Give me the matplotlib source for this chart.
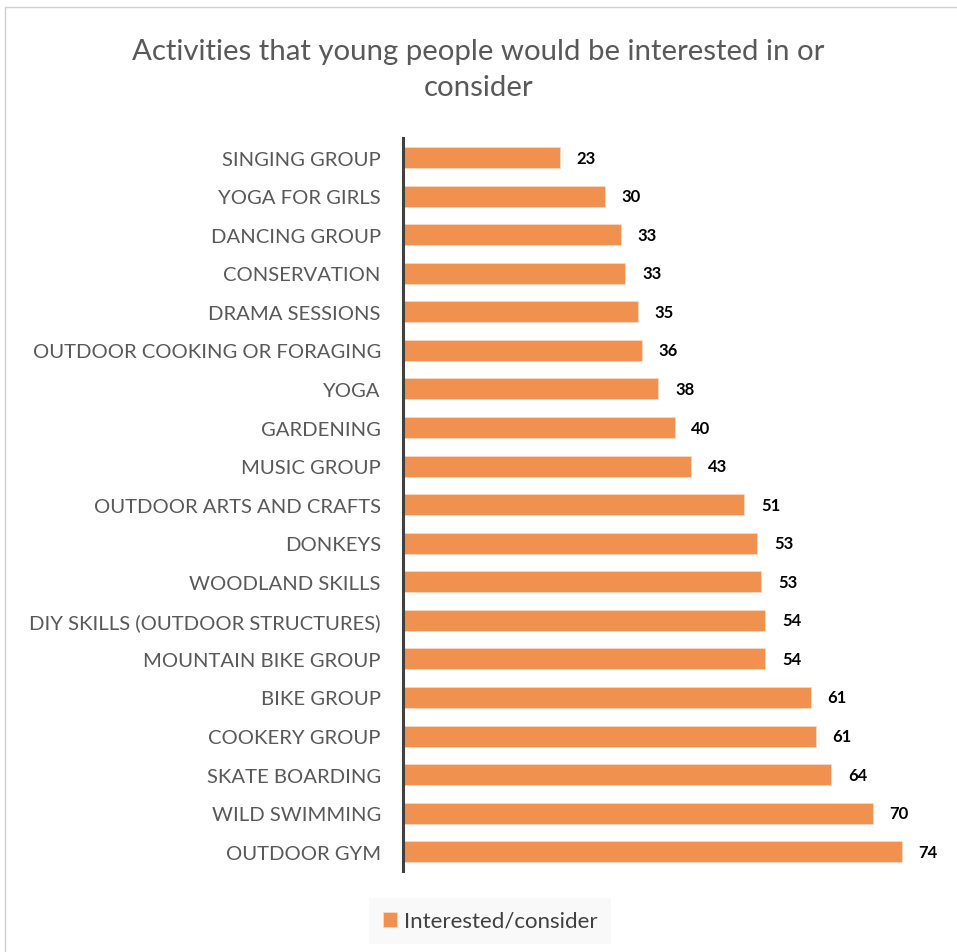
import matplotlib.pyplot as plt
from matplotlib.patches import Rectangle

# ---------------- DATA ----------------
activities = [
    "SINGING GROUP", "YOGA FOR GIRLS", "DANCING GROUP", "CONSERVATION",
    "DRAMA SESSIONS", "OUTDOOR COOKING OR FORAGING", "YOGA", "GARDENING",
    "MUSIC GROUP", "OUTDOOR ARTS AND CRAFTS", "DONKEYS", "WOODLAND SKILLS",
    "DIY SKILLS (OUTDOOR STRUCTURES)", "MOUNTAIN BIKE GROUP", "BIKE GROUP",
    "COOKERY GROUP", "SKATE BOARDING", "WILD SWIMMING", "OUTDOOR GYM",
]
# bar lengths as measured, labels as printed on the chart
values = [23.3, 30.0, 32.4, 33.1, 34.9, 35.5, 38.0, 40.4, 42.9, 50.8,
          52.7, 53.3, 53.9, 53.9, 60.7, 61.4, 63.7, 69.9, 74.2]
labels = [23, 30, 33, 33, 35, 36, 38, 40, 43, 51,
          53, 53, 54, 54, 61, 61, 64, 70, 74]

TITLE = "Activities that young people would be interested in or\nconsider"
SERIES = "Interested/consider"

BAR_COLOR = "#F0914F"
TEXT_GREY = "#595959"

plt.rcParams["font.family"] = ["Lato", "DejaVu Sans"]

fig = plt.figure(figsize=(9.57, 9.53), dpi=100)
ax = fig.add_axes([0.4211, 0.0850, 0.983 - 0.4211, 0.8538 - 0.0850])

# chart border (Excel style frame)
fig.patches.append(Rectangle((5 / 957, -0.1), 1.2, 1 - 8 / 953 + 0.1,
                             transform=fig.transFigure, fill=False,
                             edgecolor="#D0D0D0", linewidth=1.0))

pos = list(range(len(activities)))
ax.barh(pos, values, height=0.545, color=BAR_COLOR,
        edgecolor="#FAD9C0", linewidth=0.6, label=SERIES, zorder=2)

for y, v, lab in zip(pos, values, labels):
    ax.annotate(str(lab), (v, y), xytext=(12, 0), textcoords="offset points",
                ha="left", va="center", fontsize=12, fontweight="bold",
                color="black")

ax.set_ylim(len(activities) - 0.5, -0.5)
ax.set_xlim(0, 80)
ax.set_yticks(pos)
ax.set_yticklabels(activities, fontsize=14.6, color=TEXT_GREY)
ax.tick_params(axis="y", length=0, pad=16)
ax.set_xticks([])

for side in ["top", "right", "bottom"]:
    ax.spines[side].set_visible(False)
ax.spines["left"].set_color("#404040")
ax.spines["left"].set_linewidth(2.2)
ax.spines["left"].set_zorder(3)

fig.text(0.5, 1 - 70 / 953, TITLE, ha="center", va="center",
         fontsize=21.2, color=TEXT_GREY, linespacing=1.45)

leg = fig.legend(loc="center", bbox_to_anchor=(490 / 957, 1 - 922 / 953),
                 frameon=True, fontsize=16, handlelength=0.65,
                 handleheight=0.65, handletextpad=0.3, borderpad=0.6,
                 borderaxespad=0)
leg.get_frame().set_facecolor("#F8F8F8")
leg.get_frame().set_edgecolor("none")
leg.get_frame().set_boxstyle("square", pad=0)
for t in leg.get_texts():
    t.set_color("#404040")

fig.savefig("out.png", dpi=100)
